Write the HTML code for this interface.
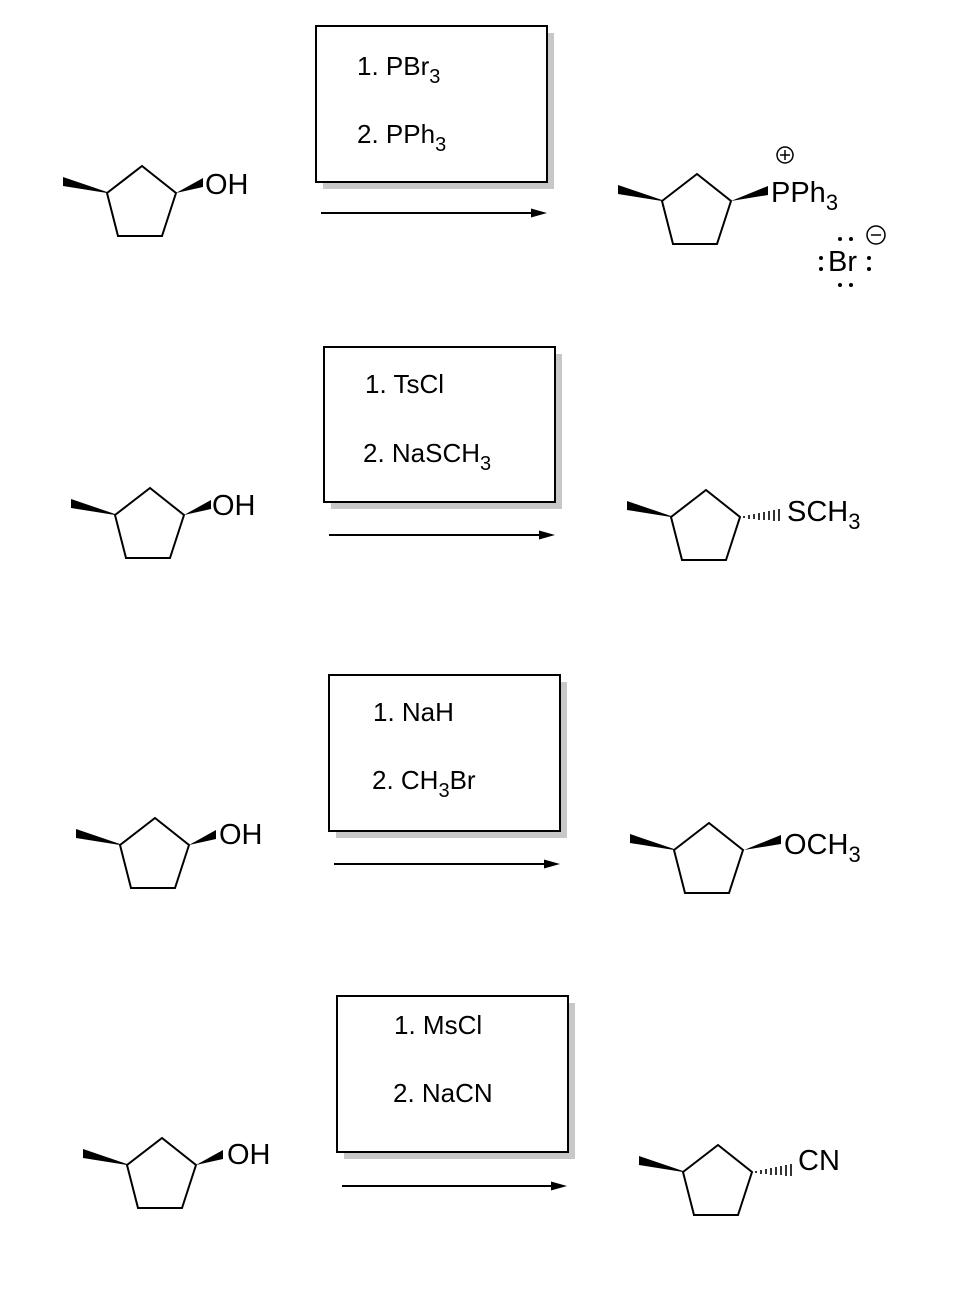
<!DOCTYPE html>
<html><head><meta charset="utf-8"><style>
html,body{margin:0;padding:0;background:#fff}
svg{display:block}
text{font-family:"Liberation Sans",Arial,sans-serif;fill:#000}
</style></head><body>
<svg width="956" height="1296" viewBox="0 0 956 1296" xmlns="http://www.w3.org/2000/svg">
<defs>
<g id="ring">
<polygon points="0,0 35,-27 69,0 55,43 11,43" fill="none" stroke="#000" stroke-width="2" stroke-linejoin="miter"/>
<polygon points="-44,-16 -44,-7 0,0 0,-1" fill="#000"/>
</g>
<g id="wedge"><polygon points="69,0 96,-15 96,-6" fill="#000"/></g>
<g id="hash" stroke="#000" stroke-width="1.6">
<line x1="73" y1="-1" x2="73" y2="1"/>
<line x1="78" y1="-2" x2="78" y2="2"/>
<line x1="83" y1="-3" x2="83" y2="2"/>
<line x1="88" y1="-4" x2="88" y2="3"/>
<line x1="93" y1="-5" x2="93" y2="3"/>
<line x1="98" y1="-6" x2="98" y2="3"/>
<line x1="103" y1="-7" x2="103" y2="4"/>
<line x1="108" y1="-8" x2="108" y2="4"/>
</g>
</defs>

<g fill="#c8c8c8">
<rect x="323" y="33" width="231" height="156"/>
<rect x="331" y="354" width="231" height="155"/>
<rect x="336" y="682" width="231" height="156"/>
<rect x="344" y="1003" width="231" height="156"/>
</g>
<g fill="#fff" stroke="#000" stroke-width="2">
<rect x="316" y="26" width="231" height="156"/>
<rect x="324" y="347" width="231" height="155"/>
<rect x="329" y="675" width="231" height="156"/>
<rect x="337" y="996" width="231" height="156"/>
</g>
<g font-size="26">
<text x="357" y="75">1. PBr<tspan font-size="20" dy="8">3</tspan></text>
<text x="357" y="143">2. PPh<tspan font-size="20" dy="8">3</tspan></text>
<text x="365" y="393">1. TsCl</text>
<text x="363" y="462">2. NaSCH<tspan font-size="20" dy="8">3</tspan></text>
<text x="373" y="721">1. NaH</text>
<text x="372" y="789">2. CH<tspan font-size="20" dy="8">3</tspan><tspan dy="-8">Br</tspan></text>
<text x="394" y="1034">1. MsCl</text>
<text x="393" y="1102">2. NaCN</text>
</g>

<g stroke="#000" stroke-width="2">
<line x1="321" y1="213" x2="535" y2="213"/>
<line x1="329" y1="535" x2="543" y2="535"/>
<line x1="334" y1="864" x2="548" y2="864"/>
<line x1="342" y1="1186" x2="555" y2="1186"/>
</g>
<g fill="#000">
<polygon points="547,213 531,208.5 531,217.5"/>
<polygon points="555,535 539,530.5 539,539.5"/>
<polygon points="560,864 544,859.5 544,868.5"/>
<polygon points="567,1186 551,1181.5 551,1190.5"/>
</g>

<g transform="translate(107,193)"><use href="#ring"/><use href="#wedge"/><text x="98" y="1" font-size="29">OH</text></g>
<g transform="translate(115,515)"><use href="#ring"/><use href="#wedge"/><text x="97" y="0" font-size="29">OH</text></g>
<g transform="translate(120,845)"><use href="#ring"/><use href="#wedge"/><text x="99" y="-1" font-size="29">OH</text></g>
<g transform="translate(127,1165)"><use href="#ring"/><use href="#wedge"/><text x="100" y="-1" font-size="29">OH</text></g>

<g transform="translate(662,201)"><use href="#ring"/><polygon points="69,0 106,-15 106,-6" fill="#000"/>
<text x="109" y="1" font-size="29">PPh<tspan font-size="22" dy="8">3</tspan></text></g>
<circle cx="785" cy="155" r="8" fill="none" stroke="#000" stroke-width="1.5"/>
<line x1="780" y1="155" x2="790" y2="155" stroke="#000" stroke-width="1.5"/>
<line x1="785" y1="150" x2="785" y2="160" stroke="#000" stroke-width="1.5"/>
<text x="828" y="271" font-size="29">Br</text>
<g fill="#000">
<circle cx="821" cy="258" r="2"/><circle cx="821" cy="269" r="2"/>
<circle cx="869" cy="258" r="2"/><circle cx="869" cy="269" r="2"/>
<circle cx="840" cy="239" r="2"/><circle cx="851" cy="239" r="2"/>
<circle cx="840" cy="285" r="2"/><circle cx="851" cy="285" r="2"/>
</g>
<circle cx="876" cy="235" r="9" fill="none" stroke="#000" stroke-width="1.5"/>
<line x1="871" y1="235" x2="881" y2="235" stroke="#000" stroke-width="1.5"/>

<g transform="translate(671,517)"><use href="#ring"/><use href="#hash"/>
<text x="116" y="4" font-size="29">SCH<tspan font-size="22" dy="8">3</tspan></text></g>
<g transform="translate(674,850)"><use href="#ring"/><polygon points="70,0 107,-15 107,-6" fill="#000"/>
<text x="110" y="4" font-size="29">OCH<tspan font-size="22" dy="8">3</tspan></text></g>
<g transform="translate(683,1172)"><use href="#ring"/><use href="#hash"/>
<text x="115" y="-2" font-size="29">CN</text></g>
</svg>
</body></html>
